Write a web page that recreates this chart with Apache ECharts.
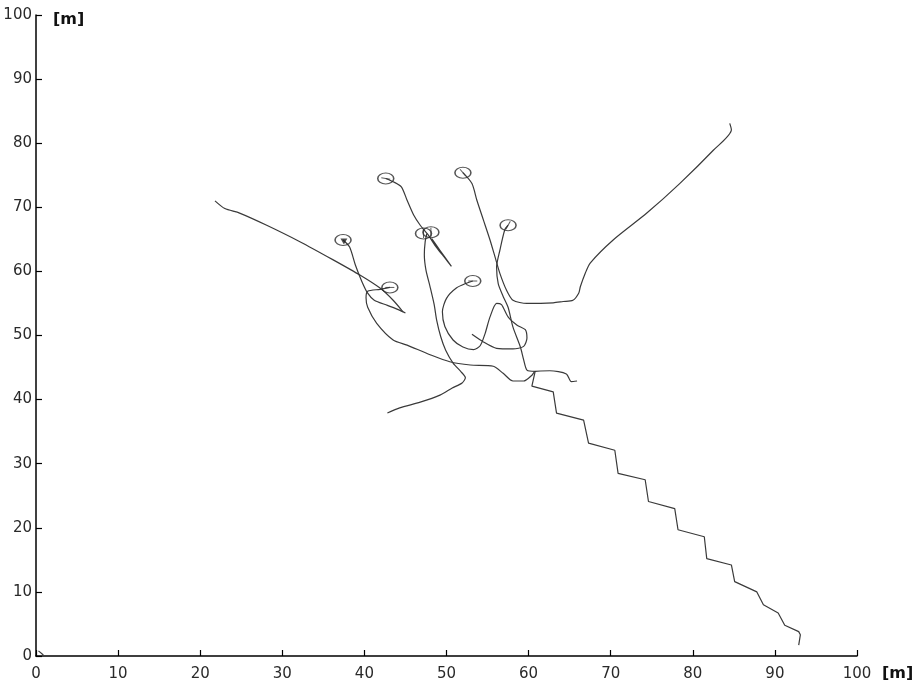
<!DOCTYPE html>
<html><head><meta charset="utf-8">
<script src="https://cdn.jsdelivr.net/npm/echarts@6/dist/echarts.min.js"></script>
<style>html,body{margin:0;padding:0;background:#fff}#c{width:915px;height:687px}</style>
</head><body><div id="c"></div>
<script>
// ---- axis definition ----
const xRange = [0, 100];
const yRange = [0, 100];
const tickStep = 10;
const axisUnit = '[m]';

// ---- trajectories [x, y] in metres ----
const trackWest = [[21.8,71.0],[23.0,69.8],[24.8,69.1],[28.1,67.2],[32.2,64.6],[36.2,61.8],[39.5,59.4],[41.9,57.4],[43.5,55.5],[44.7,53.7]];
const trackA = [[37.4,64.9],[38.2,63.8],[38.9,61.0],[39.7,58.4],[40.4,56.6],[41.2,55.5],[42.8,54.7],[44.2,54.0],[45.0,53.5]];
const trackB = [[43.1,57.5],[41.9,57.2],[40.4,56.9],[40.2,55.9],[40.4,54.4],[41.5,51.9],[43.5,49.3],[45.2,48.5],[48.0,47.0],[50.4,45.9],[52.9,45.4],[55.7,45.2],[56.9,44.1],[58.1,42.9],[59.4,42.9],[60.4,43.8],[60.8,44.4],[62.6,44.5],[64.6,44.0],[65.2,42.8],[65.9,42.9]];
const trackC = [[42.6,74.5],[43.5,74.0],[44.5,73.2],[45.2,71.1],[46.0,68.8],[46.8,67.2],[47.7,65.8],[48.8,63.7],[49.8,62.1],[50.6,60.8],[49.2,63.3],[48.2,65.1]];
const trackD = [[47.6,65.9],[47.4,64.6],[47.3,62.6],[47.5,60.2],[48.0,57.6],[48.5,54.8],[48.8,52.4],[49.3,49.8],[49.9,47.7],[50.8,45.7],[51.8,44.3],[52.3,43.4],[51.9,42.6],[50.7,41.8],[49.2,40.7],[46.8,39.6],[44.3,38.7],[42.8,37.9]];
const trackE = [[53.2,58.5],[52.5,58.2],[51.2,57.4],[50.0,55.8],[49.5,53.7],[49.8,51.4],[50.8,49.3],[52.0,48.2],[53.3,47.8],[54.1,48.4],[54.7,50.3],[55.3,52.9],[56.1,55.0],[56.7,54.8],[57.5,52.9],[58.6,51.6],[59.6,50.9],[59.8,49.6],[59.4,48.3],[58.1,47.9],[56.1,48.0],[54.5,49.0],[53.1,50.2]];
const trackF = [[52.0,75.4],[53.1,73.7],[53.7,71.1],[54.5,68.0],[55.3,64.9],[55.9,62.3],[56.5,59.7],[57.3,57.1],[58.1,55.5],[59.8,55.0],[63.0,55.1],[64.2,55.3],[65.4,55.5],[66.1,56.6],[66.3,57.6],[66.9,59.7],[67.5,61.3],[70.3,64.9],[74.4,69.1],[78.4,73.7],[82.5,78.9],[84.7,82.1],[84.5,83.1]];
const trackG = [[57.5,67.2],[57.1,66.5],[56.5,63.3],[56.1,60.7],[56.3,58.1],[56.9,56.1],[57.5,54.4],[58.1,51.3],[59.0,48.2],[59.4,46.2],[59.8,44.6],[60.8,44.4]];
const trackStairs = [[60.8,44.4],[60.4,42.1],[63.0,41.2],[63.4,37.9],[66.7,36.8],[67.3,33.2],[70.5,32.1],[70.9,28.5],[74.2,27.5],[74.6,24.1],[77.8,23.0],[78.2,19.7],[81.4,18.6],[81.7,15.2],[84.7,14.2],[85.1,11.6],[87.8,10.0],[88.6,8.0],[90.4,6.7],[91.2,4.8],[92.9,3.8],[93.1,3.3],[92.9,1.7]];
const originMark = [[0.3,0.8],[0.9,0.15]];

// ---- start markers [x, y, headingDeg] ----
const startMarks = [[37.4,64.9,0],[43.1,57.5,0],[42.6,74.5,-10],[47.2,65.9,90],[48.1,66.1,90],[53.2,58.5,0],[52.0,75.4,-50],[57.5,67.2,60]];
const arrowMarks = [[37.4,64.9]];

const tracks = {trackWest, trackA, trackB, trackC, trackD, trackE, trackF, trackG, trackStairs, originMark};

const lineColor = '#3a3a3a';
const series = Object.keys(tracks).map(k => ({
  name: k, type: 'line', data: tracks[k], showSymbol: false, smooth: k === 'trackStairs' ? false : 0.25,
  lineStyle: {color: lineColor, width: 1.2}, silent: true, z: 2
}));
series.push({
  type: 'scatter', data: startMarks.map(p => [p[0], p[1]]), symbol: 'circle', symbolSize: [16, 11],
  itemStyle: {color: 'rgba(0,0,0,0)', borderColor: '#2a2a2a', borderWidth: 1.3}, z: 3
});
series.push({
  type: 'scatter', data: startMarks.filter((p,i)=>i>0).map(p => ({value: [p[0], p[1]], symbolRotate: p[2]})),
  symbol: 'rect', symbolSize: [9, 1], itemStyle: {color: '#333'}, z: 4
});
series.push({
  type: 'scatter', data: arrowMarks, symbol: 'triangle', symbolSize: [7, 6], symbolRotate: 60,
  itemStyle: {color: '#222'}, z: 4
});

const chart = echarts.init(document.getElementById('c'), null, {renderer: 'canvas'});
const labelStyle = {color: '#2a2a2a', fontSize: 15, fontFamily: 'DejaVu Sans, sans-serif'};
const nameStyle = {color: '#111', fontSize: 16, fontWeight: 'bold', fontFamily: 'DejaVu Sans, sans-serif'};
chart.setOption({
  animation: false,
  backgroundColor: '#fff',
  grid: {left: 36, right: 58, top: 15, bottom: 31, containLabel: false, outerBoundsMode: 'none'},
  xAxis: {
    type: 'value', min: xRange[0], max: xRange[1], interval: tickStep,
    name: axisUnit, nameLocation: 'end', nameGap: 25,
    nameTextStyle: Object.assign({}, nameStyle, {verticalAlign: 'top', padding: [10, 0, 0, 0]}),
    axisLine: {show: true, lineStyle: {color: '#000', width: 1.5}},
    axisTick: {show: true, inside: true, length: 6, lineStyle: {color: '#000', width: 1.2}},
    axisLabel: Object.assign({margin: 11}, labelStyle),
    splitLine: {show: false}
  },
  yAxis: {
    type: 'value', min: yRange[0], max: yRange[1], interval: tickStep,
    name: axisUnit, nameLocation: 'end', nameGap: -5,
    nameTextStyle: Object.assign({}, nameStyle, {align: 'left', verticalAlign: 'middle', padding: [0, 0, 0, 17]}),
    axisLine: {show: true, lineStyle: {color: '#000', width: 1.5}},
    axisTick: {show: true, inside: true, length: 6, lineStyle: {color: '#000', width: 1.2}},
    axisLabel: Object.assign({margin: 4}, labelStyle),
    splitLine: {show: false}
  },
  series: series
});
</script>
</body></html>
